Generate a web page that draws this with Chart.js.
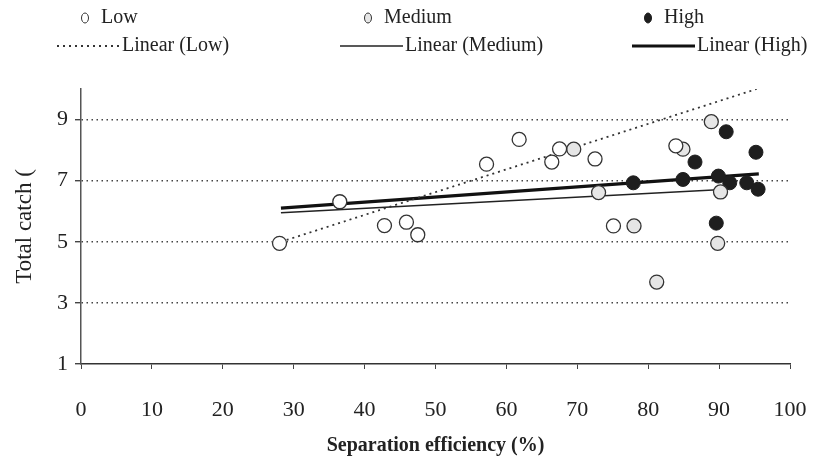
<!DOCTYPE html>
<html>
<head>
<meta charset="utf-8">
<script src="https://cdn.jsdelivr.net/npm/chart.js@4.4.1/dist/chart.umd.min.js"></script>
<style>
  html, body { margin: 0; padding: 0; background: #fff; }
  #wrap { width: 821px; height: 458px; position: relative; }
</style>
</head>
<body>
<div id="wrap"><canvas id="chart"></canvas></div>
<script>
// Data

var seriesLabels = ['Low', 'Medium', 'High'];
var trendLabels = ['Linear (Low)', 'Linear (Medium)', 'Linear (High)'];

// Low (open circles)
var lowX = [28.0, 36.5, 42.8, 45.9, 47.5, 57.2, 61.8, 66.4, 67.5, 72.5, 75.1, 83.9];
var lowY = [4.95, 6.31, 5.53, 5.64, 5.23, 7.54, 8.35, 7.61, 8.04, 7.71, 5.52, 8.14];

// Medium (open circles, greyish)
var medX = [69.5, 73.0, 78.0, 81.2, 84.9, 88.9, 89.8, 90.2];
var medY = [8.03, 6.61, 5.52, 3.68, 8.03, 8.93, 4.95, 6.63];

// High (filled circles)
var highX = [77.9, 84.9, 86.6, 89.6, 89.9, 91.0, 91.5, 93.9, 95.2, 95.5];
var highY = [6.93, 7.04, 7.61, 5.61, 7.15, 8.60, 6.93, 6.93, 7.93, 6.72];

// trend line end points
var trendLowX = [28.2, 95.3];
var trendLowY = [5.0, 10.0];
var trendMedX = [28.2, 90.5];
var trendMedY = [5.95, 6.71];
var trendHighX = [28.2, 95.6];
var trendHighY = [6.10, 7.22];

var xTicks = [0, 10, 20, 30, 40, 50, 60, 70, 80, 90, 100];
var yTicks = [1, 3, 5, 7, 9];

var xTitle = 'Separation efficiency (%)';
var yTitle = 'Total catch (';

function toPoints(xs, ys) {
    var out = [];
    for (var i = 0; i < xs.length; i++) {
        out.push({ x: xs[i], y: ys[i] });
    }
    return out;
}

function toTicks(values) {
    return values.map(function(v) { return { value: v }; });
}

var serif = "'Liberation Serif', 'DejaVu Serif', serif";
var ink = '#222';

// legend slots, one per dataset (drawn by the plugin below)
var legendSlots = [
    { x: 85, y: 18 }, { x: 368, y: 18 }, { x: 648, y: 18 },
    { x: 57, y: 46 }, { x: 340, y: 46 }, { x: 632, y: 46 }
];

var legendPlugin = {
    id: 'paperLegend',
    afterDraw: function(chart) {
        var ctx = chart.ctx;
        ctx.save();
        ctx.font = '20px ' + serif;
        ctx.fillStyle = ink;
        ctx.textBaseline = 'middle';
        chart.data.datasets.forEach(function(ds, i) {
            var slot = legendSlots[i];
            if (!slot) return;
            if (ds.showLine) {
                ctx.beginPath();
                ctx.strokeStyle = ds.borderColor;
                ctx.lineWidth = ds.borderWidth;
                ctx.setLineDash(ds.borderDash || []);
                ctx.moveTo(slot.x, slot.y);
                ctx.lineTo(slot.x + 63, slot.y);
                ctx.stroke();
                ctx.setLineDash([]);
                ctx.fillText(ds.label, slot.x + 65, slot.y);
            } else {
                ctx.beginPath();
                ctx.ellipse(slot.x, slot.y, 3.5, 5, 0, 0, Math.PI * 2);
                ctx.fillStyle = ds.backgroundColor;
                ctx.fill();
                ctx.lineWidth = 1;
                ctx.strokeStyle = ds.borderColor;
                ctx.stroke();
                ctx.fillStyle = ink;
                ctx.fillText(ds.label, slot.x + 16, slot.y);
            }
        });
        ctx.restore();
    }
};

var ctx = document.getElementById('chart');

new Chart(ctx, {
    type: 'scatter',
    data: {
        datasets: [
            {
                label: seriesLabels[0],
                data: toPoints(lowX, lowY),
                backgroundColor: '#ffffff',
                borderColor: '#333',
                borderWidth: 1.3,
                pointRadius: 7,
                order: 1
            },
            {
                label: seriesLabels[1],
                data: toPoints(medX, medY),
                backgroundColor: '#e6e6e6',
                borderColor: '#333',
                borderWidth: 1.3,
                pointRadius: 7,
                order: 1
            },
            {
                label: seriesLabels[2],
                data: toPoints(highX, highY),
                backgroundColor: '#1e1e1e',
                borderColor: '#1e1e1e',
                borderWidth: 1,
                pointRadius: 7,
                order: 1
            },
            {
                label: trendLabels[0],
                data: toPoints(trendLowX, trendLowY),
                showLine: true,
                borderColor: '#333',
                borderWidth: 1.8,
                borderDash: [2, 4],
                pointRadius: 0,
                order: 2
            },
            {
                label: trendLabels[1],
                data: toPoints(trendMedX, trendMedY),
                showLine: true,
                borderColor: '#222',
                borderWidth: 1.6,
                pointRadius: 0,
                order: 2
            },
            {
                label: trendLabels[2],
                data: toPoints(trendHighX, trendHighY),
                showLine: true,
                borderColor: '#111',
                borderWidth: 3.2,
                pointRadius: 0,
                order: 2
            }
        ]
    },
    options: {
        responsive: true,
        maintainAspectRatio: false,
        animation: false,
        layout: {
            padding: { top: 89, right: 31, left: 0, bottom: 0 }
        },
        plugins: {
            legend: { display: false },
            tooltip: { enabled: false }
        },
        scales: {
            x: {
                type: 'linear',
                min: 0,
                max: 100,
                afterBuildTicks: function(scale) {
                    scale.ticks = toTicks(xTicks);
                },
                afterFit: function(scale) {
                    scale.height = 94;
                },
                border: { display: true, color: '#333', width: 1.5 },
                grid: {
                    drawOnChartArea: false,
                    drawTicks: true,
                    tickLength: 5,
                    tickColor: '#444'
                },
                ticks: {
                    color: ink,
                    // small padding keeps the right edge at x=100; tall line box pushes labels down
                    padding: 10,
                    font: { family: serif, size: 22, lineHeight: 2.8 }
                },
                title: {
                    display: true,
                    text: xTitle,
                    color: ink,
                    padding: { top: 0, bottom: 0 },
                    font: { family: serif, size: 20, weight: 'bold' }
                }
            },
            y: {
                type: 'linear',
                min: 1,
                max: 10,
                afterBuildTicks: function(scale) {
                    scale.ticks = toTicks(yTicks);
                },
                afterFit: function(scale) {
                    scale.width = 81;
                },
                // in v4 border.dash sets the dash of the grid lines
                border: { display: true, color: '#555', width: 1.5, dash: [1.5, 3.5] },
                grid: {
                    color: function(c) {
                        return c.tick && c.tick.value === 1 ? 'rgba(0,0,0,0)' : '#444';
                    },
                    lineWidth: 1.4,
                    drawTicks: true,
                    tickLength: 6,
                    tickColor: '#444',
                    tickBorderDash: []
                },
                ticks: {
                    color: ink,
                    padding: 7,
                    font: { family: serif, size: 22 }
                },
                title: {
                    display: true,
                    text: yTitle,
                    color: ink,
                    padding: { top: 11, bottom: 0 },
                    font: { family: serif, size: 23 }
                }
            }
        }
    },
    plugins: [legendPlugin]
});
</script>
</body>
</html>
